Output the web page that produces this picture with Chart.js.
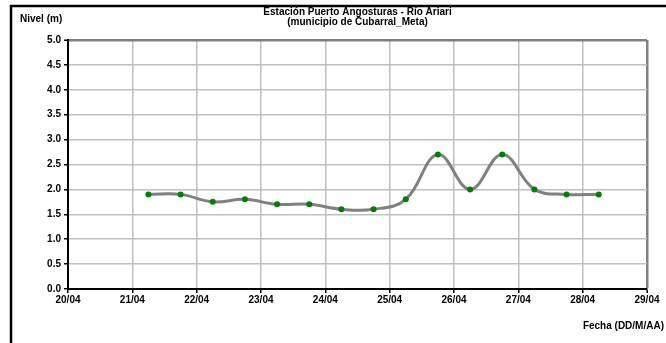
<!DOCTYPE html>
<html>
<head>
<meta charset="utf-8">
<script src="https://cdn.jsdelivr.net/npm/chart.js@4"></script>
<style>
html,body{margin:0;padding:0;background:#fff;}
#wrap{width:666px;height:343px;position:relative;}
</style>
</head>
<body>
<div id="wrap"><canvas id="c" width="666" height="343"></canvas></div>
<script>
// Data
const timesDays = [21.25, 21.75, 22.25, 22.75, 23.25, 23.75, 24.25, 24.75, 25.25, 25.75, 26.25, 26.75, 27.25, 27.75, 28.25];
const nivel =     [1.9,   1.9,   1.75,  1.8,   1.7,   1.7,   1.6,   1.6,   1.8,   2.7,   2.0,   2.7,   2.0,   1.9,   1.9];
const xTickMonth = '04';
const titleLines = ['Estación Puerto Angosturas - Río Ariari', '(municipio de Cubarral_Meta)'];
const yAxisTitle = 'Nivel (m)';
const xAxisTitle = 'Fecha (DD/M/AA)';

const FONT = '"Liberation Sans", Arial, sans-serif';

const decor = {
  id: 'decor',
  afterDraw(chart) {
    const c = chart.ctx;
    const a = chart.chartArea;
    c.save();
    // outer frame
    c.strokeStyle = '#000';
    c.lineWidth = 2.5;
    c.beginPath();
    c.moveTo(11, 345);
    c.lineTo(11, 6);
    c.lineTo(670, 6);
    c.stroke();
    c.fillStyle = '#000';
    c.font = 'bold 10px ' + FONT;
    c.textAlign = 'center';
    c.textBaseline = 'middle';
    const cx = (a.left + a.right) / 2;
    c.fillText(titleLines[0], cx, 12);
    c.fillText(titleLines[1], cx, 22);
    c.textAlign = 'left';
    c.fillText(yAxisTitle, 20, 19);
    c.textAlign = 'right';
    c.fillText(xAxisTitle, 664, 326);
    c.restore();
  }
};

new Chart(document.getElementById('c'), {
  type: 'line',
  data: {
    datasets: [{
      data: timesDays.map((t, i) => ({ x: t, y: nivel[i] })),
      borderColor: '#808080',
      borderWidth: 3,
      tension: 0.4,
      pointRadius: 3,
      pointHoverRadius: 3,
      pointBackgroundColor: '#008000',
      pointBorderColor: '#008000',
      pointBorderWidth: 0,
      fill: false
    }]
  },
  options: {
    responsive: false,
    animation: false,
    events: [],
    layout: { padding: { left: 0, top: 40, right: 19, bottom: 0 } },
    plugins: { legend: { display: false }, title: { display: false }, tooltip: { enabled: false } },
    scales: {
      x: {
        type: 'linear',
        min: 20, max: 29,
        afterFit(s) { s.height = 54; },
        ticks: {
          stepSize: 1,
          autoSkip: false,
          maxRotation: 0,
          padding: 1,
          color: '#000',
          font: { family: FONT, size: 10, weight: 'bold' },
          callback: v => String(v) + '/' + xTickMonth
        },
        grid: {
          color: ctx => ctx.tick && ctx.tick.value === 29 ? '#808080' : '#c0c0c0',
          lineWidth: ctx => ctx.tick && ctx.tick.value === 29 ? 2.5 : 1.5,
          tickColor: '#000',
          tickLength: 4,
          tickWidth: 1.5
        },
        border: { color: '#000', width: 2 }
      },
      y: {
        min: 0, max: 5,
        afterFit(s) { s.width = 68; },
        ticks: {
          stepSize: 0.5,
          padding: 3,
          color: '#000',
          font: { family: FONT, size: 10, weight: 'bold' },
          callback: v => Number(v).toFixed(1)
        },
        grid: {
          color: ctx => ctx.tick && ctx.tick.value === 5 ? '#808080' : '#c0c0c0',
          lineWidth: ctx => ctx.tick && ctx.tick.value === 5 ? 2.5 : 1.5,
          tickColor: '#000',
          tickLength: 4,
          tickWidth: 1.5
        },
        border: { color: '#000', width: 2 }
      }
    }
  },
  plugins: [decor]
});
</script>
</body>
</html>
